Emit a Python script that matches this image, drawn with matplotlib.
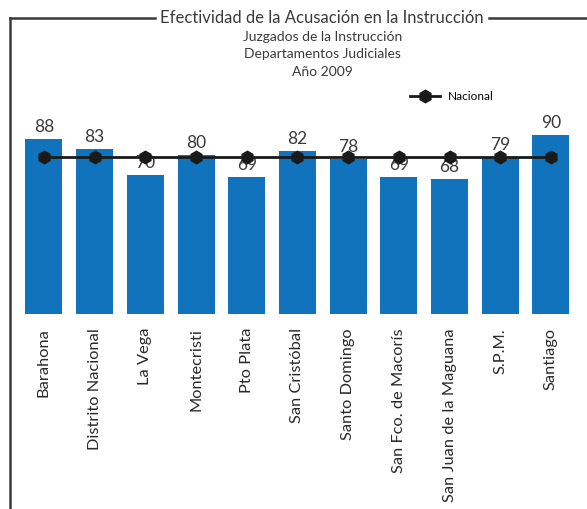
import matplotlib.pyplot as plt
from matplotlib.lines import Line2D

# --- DADOS ---
departamentos = ['Barahona', 'Distrito Nacional', 'La Vega', 'Montecristi', 'Pto Plata',
                 'San Cristóbal', 'Santo Domingo', 'San Fco. de Macorís',
                 'San Juan de la Maguana', 'S.P.M.', 'Santiago']
efectividad = [88, 83, 70, 80, 69, 82, 78, 69, 68, 79, 90]
nacional = [79] * len(departamentos)

azul = '#1173BC'
cinza = '#3a3a3a'
fonte = ['Lato', 'DejaVu Sans']
plt.rcParams['font.family'] = fonte

fig = plt.figure(figsize=(5.87, 5.09), dpi=100)
ax = fig.add_axes([0.0317, 0.383, 0.950, 0.391])

x = list(range(len(departamentos)))
ax.bar(x, efectividad, width=0.73, color=azul, zorder=1)
ax.plot(x, nacional, color='#1a1a1a', lw=2, marker='h', markersize=9,
        label='Nacional', zorder=3)

# valores em cima das barras
for i, v in enumerate(efectividad):
    ax.annotate(str(v), (i, v), xytext=(0, 3), textcoords='offset points',
                ha='center', va='bottom', fontsize=12.5, color=cinza, zorder=2)

ax.set_xlim(-0.5, len(departamentos) - 0.5)
ax.set_ylim(0, 100)
ax.set_xticks(x)
ax.set_xticklabels(departamentos, rotation=90, fontsize=11.8, color='#2a2a2a')
ax.tick_params(axis='x', length=0, pad=10)
ax.set_yticks([])
for s in ax.spines.values():
    s.set_visible(False)

ax.legend(loc='center left', bbox_to_anchor=(0.688, 0.811), bbox_transform=fig.transFigure,
          frameon=False, fontsize=8.5, handlelength=2.6, borderpad=0, handletextpad=0.6)

# titulos
fig.text(0.549, 0.965, 'Efectividad de la Acusación en la Instrucción', ha='center', va='center',
         fontsize=12, color=cinza)
fig.text(0.549, 0.928, 'Juzgados de la Instrucción', ha='center', va='center', fontsize=10, color=cinza)
fig.text(0.549, 0.893, 'Departamentos Judiciales', ha='center', va='center', fontsize=10, color=cinza)
fig.text(0.549, 0.858, 'Año 2009', ha='center', va='center', fontsize=10, color=cinza)

# moldura
yl = 1 - 18 / 509
xl = 10 / 587
fig.add_artist(Line2D([xl, xl], [0, yl], color=cinza, lw=1.8))
fig.add_artist(Line2D([xl, 155 / 587], [yl, yl], color=cinza, lw=1.8))
fig.add_artist(Line2D([489 / 587, 1], [yl, yl], color=cinza, lw=1.8))

fig.savefig('out.png', dpi=100)
